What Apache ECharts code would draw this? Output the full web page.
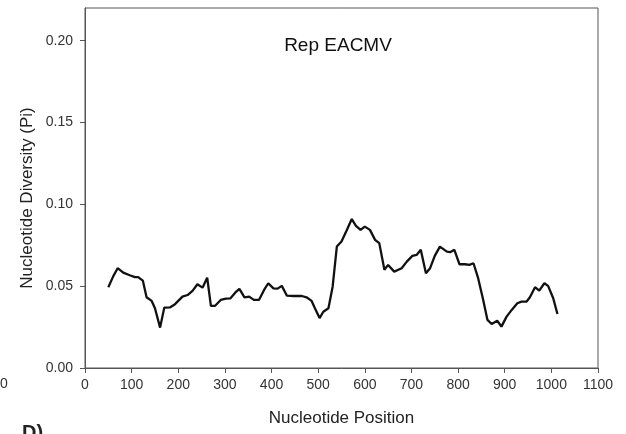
<!DOCTYPE html>
<html>
<head>
<meta charset="utf-8">
<script src="https://cdn.jsdelivr.net/npm/echarts@6/dist/echarts.min.js"></script>
<style>
  html, body { margin: 0; padding: 0; background: #fff; }
  #chart { width: 626px; height: 434px; }
</style>
</head>
<body>
<div id="chart"></div>
<script>
// Sliding-window nucleotide diversity along the Rep gene
const positions = [50, 61, 70, 82, 96, 107, 114, 124, 132, 143, 150, 161, 170, 182, 193, 209, 220, 231, 241, 252,
  262, 270, 279, 291, 302, 312, 322, 331, 342, 352, 362, 373, 384, 393, 404, 413, 422, 433, 447, 465,
  475, 486, 493, 503, 511, 522, 531, 540, 550, 561, 572, 581, 591, 600, 611, 622, 631, 642, 650, 663,
  679, 690, 702, 711, 720, 731, 740, 750, 761, 776, 783, 792, 803, 815, 824, 833, 843, 853, 863, 872,
  884, 893, 904, 915, 927, 936, 947, 954, 965, 974, 985, 993, 1004, 1013];
const piValues = [0.0494, 0.0563, 0.0610, 0.0583, 0.0567, 0.0555, 0.0555, 0.0534, 0.0432, 0.0410, 0.0365, 0.0247, 0.0369, 0.0370, 0.0390, 0.0436, 0.0446, 0.0473, 0.0512, 0.0491,
  0.0552, 0.0380, 0.0380, 0.0416, 0.0424, 0.0426, 0.0460, 0.0483, 0.0432, 0.0436, 0.0416, 0.0416, 0.0477, 0.0518, 0.0487, 0.0485, 0.0502, 0.0442, 0.0440, 0.0440,
  0.0432, 0.0410, 0.0365, 0.0305, 0.0344, 0.0365, 0.0497, 0.0742, 0.0773, 0.0840, 0.0910, 0.0869, 0.0844, 0.0864, 0.0844, 0.0783, 0.0763, 0.0600, 0.0630, 0.0589,
  0.0610, 0.0650, 0.0685, 0.0691, 0.0722, 0.0579, 0.0610, 0.0685, 0.0742, 0.0711, 0.0708, 0.0722, 0.0634, 0.0634, 0.0630, 0.0640, 0.0549, 0.0426, 0.0294, 0.0269,
  0.0289, 0.0253, 0.0314, 0.0355, 0.0396, 0.0406, 0.0406, 0.0432, 0.0494, 0.0473, 0.0518, 0.0502, 0.0426, 0.0330];
const yTicks = [0, 0.05, 0.10, 0.15, 0.20];

const chart = echarts.init(document.getElementById('chart'), null, { renderer: 'canvas' });
const axisColor = '#555';
const FONT = 'Liberation Sans, Arial, sans-serif';
const labelFont = { fontFamily: FONT, fontSize: 14, color: '#333' };

chart.setOption({
  animation: false,
  backgroundColor: '#fff',
  title: {
    text: 'Rep EACMV',
    left: 333, top: 31, textAlign: 'center',
    textStyle: { fontFamily: FONT, fontSize: 19, fontWeight: 'normal', color: '#111' }
  },
  grid: { left: 85, right: 28, top: 8, bottom: 66, show: true, borderColor: axisColor, borderWidth: 1, backgroundColor: 'transparent' },
  xAxis: {
    type: 'value', min: 0, max: 1100, interval: 100,
    name: 'Nucleotide Position', nameLocation: 'middle', nameGap: 42,
    nameTextStyle: { fontFamily: FONT, fontSize: 17, color: '#222' },
    axisLine: { show: true, lineStyle: { color: axisColor } },
    axisTick: { show: true, length: 5, lineStyle: { color: axisColor } },
    axisLabel: Object.assign({ margin: 10, formatter: v => String(v) }, labelFont),
    splitLine: { show: false }
  },
  yAxis: {
    type: 'value', min: 0, max: 0.22,
    axisLine: { show: true, lineStyle: { color: axisColor } },
    axisTick: { show: true, length: 5, customValues: yTicks, lineStyle: { color: axisColor } },
    axisLabel: Object.assign({ margin: 12, customValues: yTicks, formatter: v => v.toFixed(2) }, labelFont),
    splitLine: { show: false }
  },
  graphic: [
    { type: 'text', x: 27, y: 198, rotation: Math.PI / 2,
      style: { text: 'Nucleotide Diversity (Pi)', font: '17px ' + FONT, fill: '#222', align: 'center', verticalAlign: 'middle' } },
    { type: 'text', left: 0, top: 377, style: { text: '0', font: '14px ' + FONT, fill: '#333' } },
    { type: 'text', left: 22, top: 423, style: { text: 'D)', font: 'bold 20px ' + FONT, fill: '#222' } }
  ],
  series: [{
    type: 'line',
    data: positions.map((p, i) => [p, piValues[i]]),
    showSymbol: false,
    lineStyle: { color: '#111', width: 2.3 },
    z: 3
  }]
});
</script>
</body>
</html>
